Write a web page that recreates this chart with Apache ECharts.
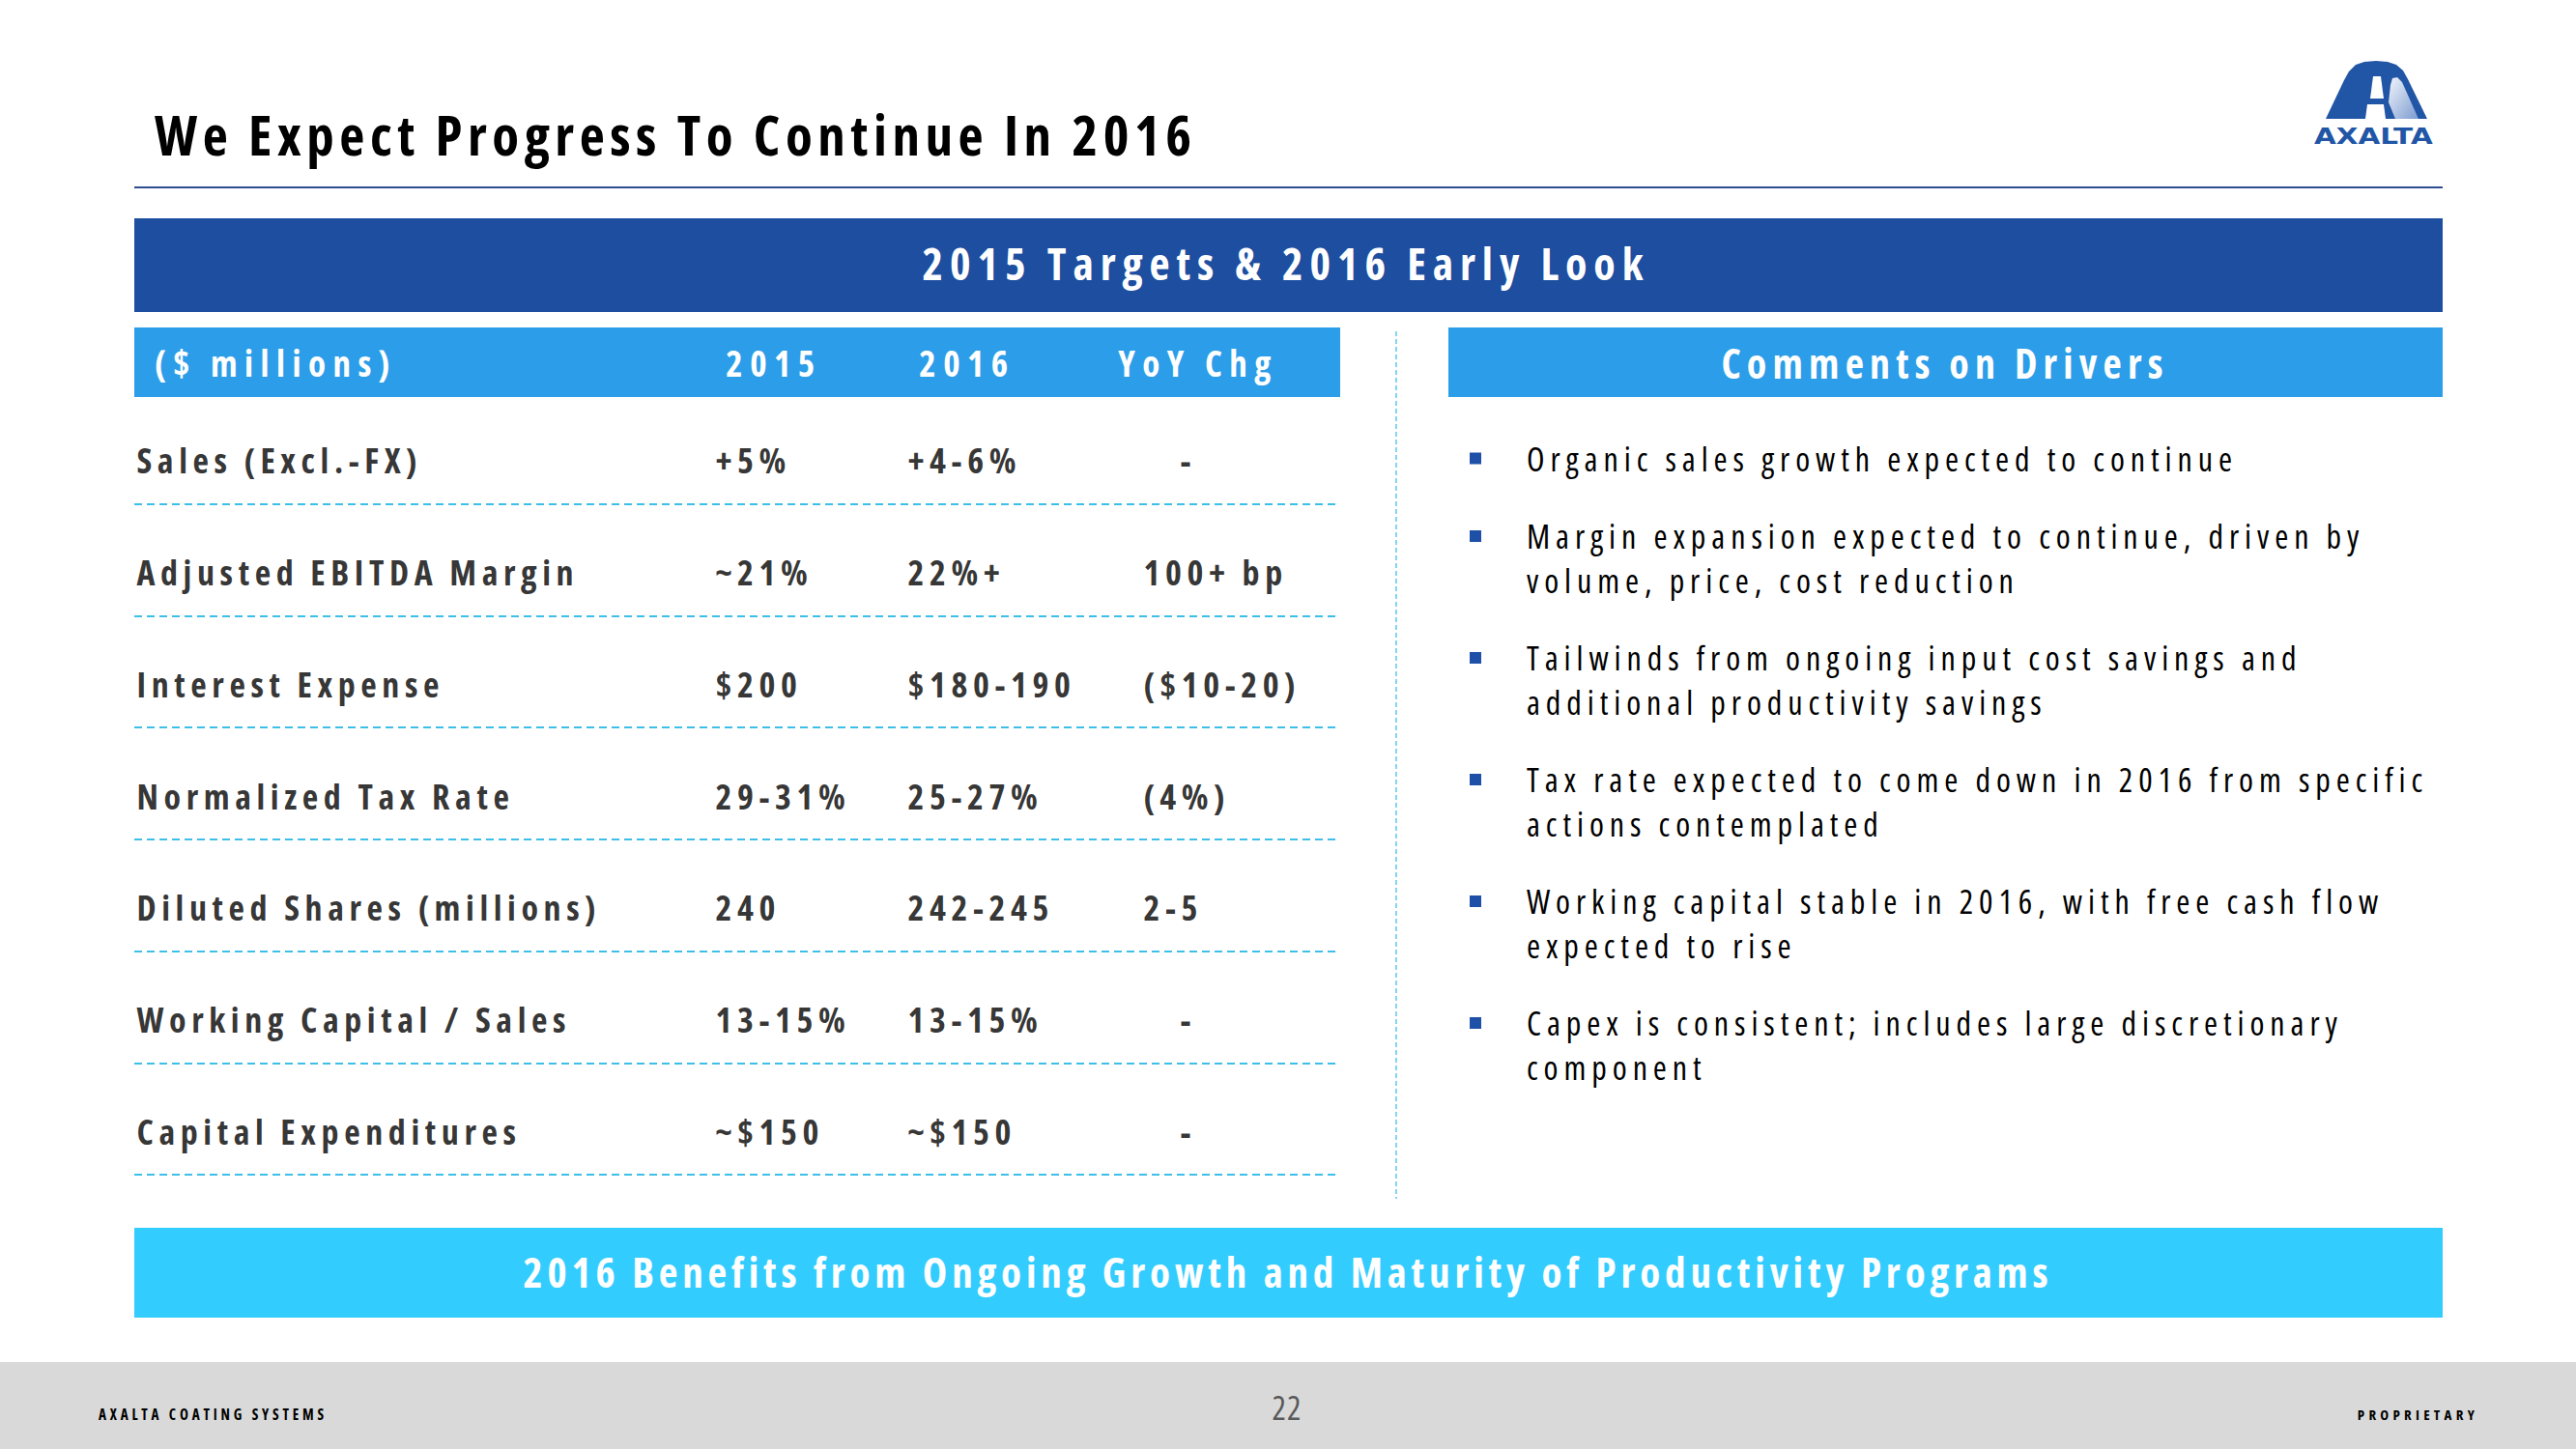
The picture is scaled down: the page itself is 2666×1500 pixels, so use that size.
<!DOCTYPE html>
<html>
<head>
<meta charset="utf-8">
<script src="https://cdn.jsdelivr.net/npm/echarts@6/dist/echarts.min.js"></script>
<style>
html,body{margin:0;padding:0;background:#fff;}
#c{width:2666px;height:1500px;}
#c svg text{letter-spacing:0px;}
</style>
</head>
<body>
<div id="c"></div>
<script>
// ---------- data ----------
const titleText = 'We Expect Progress To Continue In 2016';
const bannerText = '2015 Targets & 2016 Early Look';
const tableHeaders = ['($ millions)', '2015', '2016', 'YoY Chg'];
const rowLabels = ['Sales (Excl.-FX)', 'Adjusted EBITDA Margin', 'Interest Expense', 'Normalized Tax Rate',
  'Diluted Shares (millions)', 'Working Capital / Sales', 'Capital Expenditures'];
const values2015 = ['+5%', '~21%', '$200', '29-31%', '240', '13-15%', '~$150'];
const values2016 = ['+4-6%', '22%+', '$180-190', '25-27%', '242-245', '13-15%', '~$150'];
const yoyChange = ['-', '100+ bp', '($10-20)', '(4%)', '2-5', '-', '-'];
const commentsHeader = 'Comments on Drivers';
const comments = [
  'Organic sales growth expected to continue',
  'Margin expansion expected to continue, driven by\nvolume, price, cost reduction',
  'Tailwinds from ongoing input cost savings and\nadditional productivity savings',
  'Tax rate expected to come down in 2016 from specific\nactions contemplated',
  'Working capital stable in 2016, with free cash flow\nexpected to rise',
  'Capex is consistent; includes large discretionary\ncomponent'
];
const bottomBannerText = '2016 Benefits from Ongoing Growth and Maturity of Productivity Programs';
const footerLeft = 'AXALTA COATING SYSTEMS';
const pageNumber = '22';
const footerRight = 'PROPRIETARY';
const logoText = 'AXALTA';

// ---------- font selection (narrow face if one exists) ----------
const ctx = document.createElement('canvas').getContext('2d');
function mw(font, s) { ctx.font = font; return ctx.measureText(s).width; }
const probe = 'Adjusted EBITDA Margin 2015';
const baseW = mw("bold 100px 'Liberation Sans', Arial, sans-serif", probe);
const candidates = [
  ['', "'Liberation Sans Narrow'"], ['', "'Arial Narrow'"],
  ['condensed', "'Open Sans'"], ['condensed', "'Noto Sans'"], ['semi-condensed', "'Noto Sans'"],
  ['', "'DejaVu Sans Condensed'"]
];
let STRETCH = '', FAM = "'Liberation Sans', Arial, sans-serif";
for (const [st, fam] of candidates) {
  const w = mw(`bold ${st} 100px ${fam}, monospace`, probe);
  const wm = mw('bold 100px monospace', probe);
  if (Math.abs(w - wm) < 0.5) continue;
  const r = w / baseW;
  if (r > 0.72 && r < 0.9) { STRETCH = st; FAM = fam + ", 'Liberation Sans', sans-serif"; break; }
}
function fontStr(weight, size) { return `${weight} ${STRETCH} ${size}px ${FAM}`; }

// text styles: nominal size and the width the sample should take
const specs = {
  title:   {size: 57, weight: 'bold',   sample: titleText, target: 1073},
  banner:  {size: 46, weight: 'bold',   sample: bannerText, target: 746},
  header:  {size: 37, weight: 'bold',   sample: 'YoY Chg', target: 158},
  cheader: {size: 42, weight: 'bold',   sample: commentsHeader, target: 457},
  table:   {size: 36, weight: 'bold',   sample: 'Adjusted EBITDA Margin', target: 452, label: true},
  comment: {size: 34, weight: 'normal', sample: comments[0], target: 730},
  bottom:  {size: 43, weight: 'bold',   sample: bottomBannerText, target: 1578},
  small:   {size: 15, weight: 'bold',   sample: footerRight, target: 121},
  smallL:  {size: 15, weight: 'bold',   sample: footerLeft, target: 233},
  page:    {size: 34, weight: 'normal', sample: pageNumber, target: 30}
};
const used = {};
let css = '';
Object.keys(specs).forEach(key => {
  const sp = specs[key];
  const n = sp.sample.length;
  let f = sp.size;
  const k = mw(fontStr(sp.weight, 100), sp.sample) / 100;
  let s = (sp.target - k * f) / (n - 1);
  const minS = 0.035 * f;
  if (s < minS) { f = sp.target / (k + 0.035 * (n - 1)); s = 0.035 * f; }
  f = Math.round(f * 10) / 10;
  while (used[f]) f = Math.round((f + 0.1) * 10) / 10;
  used[f] = true;
  s = Math.max(0.5, (sp.target - k * f) / (n - 1));
  sp.f = f; sp.s = s;
  const stretchRule = (sp.label && STRETCH) ? `font-stretch:${STRETCH} !important;` : '';
  css += `#c svg text[style*=" ${f}px"]{letter-spacing:${s.toFixed(2)}px;${stretchRule}}\n`;
});
const styleEl = document.createElement('style');
styleEl.textContent = css;
document.head.appendChild(styleEl);
function F(key) { return fontStr(specs[key].weight, specs[key].f); }

// ---------- layout / style ----------
const DARK = '#1d4ea0', MID = '#2c9de8', LIGHT = '#33ccff', LOGO = '#2155a5';
const tableTop = 406, tableHeight = 810;
const colLeft = [141, 740, 939, 1183];
const columns = [rowLabels, values2015, values2016, yoyChange];

const chart = echarts.init(document.getElementById('c'), null, {renderer: 'svg'});

const grids = [{left: 139, top: tableTop, width: 1248, height: tableHeight}];
const xAxes = [{gridIndex: 0, type: 'value', min: 0, max: 1, show: false}];
const yAxes = [{
  gridIndex: 0, type: 'category', data: rowLabels, inverse: true,
  axisLine: {show: false}, axisTick: {show: false}, axisLabel: {show: false},
  splitLine: {show: true, lineStyle: {color: '#3dbfe9', width: 2, type: [8, 5]}}
}];
const series = [];
columns.forEach((col, k) => {
  const gi = k + 1;
  grids.push({left: colLeft[k], top: tableTop, width: 300, height: tableHeight});
  xAxes.push({gridIndex: gi, type: 'value', min: 0, max: 1, show: false});
  yAxes.push({gridIndex: gi, type: 'category', data: rowLabels, inverse: true, show: false});
  series.push({
    type: 'scatter', xAxisIndex: gi, yAxisIndex: gi, silent: true,
    symbolSize: 1, itemStyle: {color: 'rgba(0,0,0,0)'},
    label: {
      show: true, position: 'right', distance: 0, formatter: '{b}',
      color: '#000', fontWeight: 'bold',
      fontSize: specs.table.f, fontFamily: FAM, offset: [0, 13]
    },
    data: col.map((t, i) => {
      const item = {name: t, value: [0, i]};
      if (k === 3 && t === '-') item.label = {offset: [38, 13]};
      return item;
    })
  });
});

const g = [];
// title
g.push({type: 'text', x: 160, y: 139, z: 10, style: {text: titleText, font: F('title'), fill: '#000', align: 'left', verticalAlign: 'middle'}});
g.push({type: 'line', z: 10, shape: {x1: 139, y1: 194, x2: 2528, y2: 194}, style: {stroke: '#2e4d8e', lineWidth: 2}});
// logo
g.push({type: 'polygon', z: 10, shape: {points: [[2407,123],[2426,83],[2431,74],[2438,67],[2447,64],[2459,63],[2471,64],[2480,67],[2487,73],[2492,82],[2512,123]]}, style: {fill: LOGO}});
g.push({type: 'polygon', z: 11, shape: {points: [[2474,88],[2476,81],[2481,80],[2486,85],[2503,123],[2479,123],[2472,106]]},
  style: {fill: new echarts.graphic.LinearGradient(0, 0, 1, 1, [{offset: 0, color: '#f2f5fb'}, {offset: 1, color: '#7b9bd0'}])}});
g.push({type: 'polygon', z: 12, shape: {points: [[2456,79],[2464,79],[2467,102],[2453,102]]}, style: {fill: '#fff'}});
g.push({type: 'polygon', z: 12, shape: {points: [[2450,108],[2467,108],[2469,123],[2448,123]]}, style: {fill: '#fff'}});
g.push({type: 'text', x: 2395, y: 141, scaleX: 1.28, z: 12, style: {text: logoText, font: "bold 23px 'DejaVu Sans', sans-serif", fill: LOGO, align: 'left', verticalAlign: 'middle'}});
// dark banner
g.push({type: 'rect', z: 10, shape: {x: 139, y: 226, width: 2389, height: 97}, style: {fill: DARK}});
g.push({type: 'text', x: 1331, y: 272, z: 11, style: {text: bannerText, font: F('banner'), fill: '#fff', align: 'center', verticalAlign: 'middle'}});
// table header
g.push({type: 'rect', z: 10, shape: {x: 139, y: 339, width: 1248, height: 72}, style: {fill: MID}});
const headerX = [160, 801, 1001, 1240];
tableHeaders.forEach((h, i) => {
  g.push({type: 'text', x: headerX[i], y: 375, z: 11, style: {text: h, font: F('header'), fill: '#fff', align: i === 0 ? 'left' : 'center', verticalAlign: 'middle'}});
});
// comments header
g.push({type: 'rect', z: 10, shape: {x: 1499, y: 339, width: 1029, height: 72}, style: {fill: MID}});
g.push({type: 'text', x: 2013, y: 375, z: 11, style: {text: commentsHeader, font: F('cheader'), fill: '#fff', align: 'center', verticalAlign: 'middle'}});
// vertical divider
g.push({type: 'line', z: 10, shape: {x1: 1445, y1: 343, x2: 1445, y2: 1241}, style: {stroke: '#5bc8ec', lineWidth: 1.5, lineDash: [5, 3]}});
// comments
let cy = 474.5;
comments.forEach(c => {
  const lines = c.split('\n').length;
  g.push({type: 'rect', z: 10, shape: {x: 1521, y: cy - 6, width: 12, height: 12}, style: {fill: '#1f50a8'}});
  g.push({type: 'text', x: 1580, y: cy - 23, z: 10, style: {text: c, font: F('comment'), fill: '#000', align: 'left', verticalAlign: 'top', lineHeight: 46}});
  cy += lines * 45.5 + 35;
});
// bottom banner
g.push({type: 'rect', z: 10, shape: {x: 139, y: 1271, width: 2389, height: 93}, style: {fill: LIGHT}});
g.push({type: 'text', x: 1333, y: 1316, z: 11, style: {text: bottomBannerText, font: F('bottom'), fill: '#fff', align: 'center', verticalAlign: 'middle'}});
// footer
g.push({type: 'rect', z: 10, shape: {x: 0, y: 1410, width: 2666, height: 90}, style: {fill: '#d9d9d9'}});
g.push({type: 'text', x: 102, y: 1464, z: 11, style: {text: footerLeft, font: F('smallL'), fill: '#000', align: 'left', verticalAlign: 'middle'}});
g.push({type: 'text', x: 1332, y: 1457, z: 11, style: {text: pageNumber, font: F('page'), fill: '#595959', align: 'center', verticalAlign: 'middle'}});
g.push({type: 'text', x: 2565, y: 1464, z: 11, style: {text: footerRight, font: F('small'), fill: '#000', align: 'right', verticalAlign: 'middle'}});

chart.setOption({
  animation: false,
  backgroundColor: '#fff',
  grid: grids,
  xAxis: xAxes,
  yAxis: yAxes,
  series: series,
  graphic: {elements: g}
});
</script>
</body>
</html>
